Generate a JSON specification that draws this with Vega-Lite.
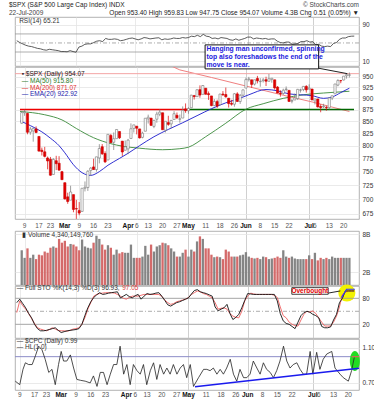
{
  "$schema": "https://vega.github.io/schema/vega-lite/v6.json",
  "background": "white",
  "padding": {"left": 8, "right": 0, "top": 1, "bottom": 0},
  "datasets": {
    "d": [
      {"i":-1,"o":846,"h":870.7,"l":845,"c":868.6,"v":5.5},{"i":0,"o":868.2,"h":875,"l":861.7,"c":869.9,"v":4.3},{"i":1,"o":866.9,"h":868,"l":823,"c":827.2,"v":5.8},{"i":2,"o":827.4,"h":838.2,"l":822,"c":833.7,"v":4.3},{"i":3,"o":829.9,"h":835.5,"l":808,"c":835.2,"v":4.8},{"i":4,"o":833.9,"h":839.4,"l":825.2,"c":826.8,"v":4.1},{"i":5,"o":818.6,"h":818.6,"l":789,"c":789.2,"v":4.8},{"i":6,"o":791,"h":796.2,"l":780.7,"c":788.4,"v":4.7},{"i":7,"o":787.9,"h":797.6,"l":777,"c":779,"v":5.3},{"i":8,"o":775.9,"h":778.7,"l":754.3,"c":770.1,"v":5.1},{"i":9,"o":773.3,"h":777.9,"l":742.4,"c":743.3,"v":5.9},{"i":10,"o":744.7,"h":775.5,"l":744.7,"c":773.1,"v":6.1},{"i":11,"o":770.6,"h":780.1,"l":752.9,"c":764.9,"v":5.9},{"i":12,"o":765.8,"h":779.4,"l":751.8,"c":752.8,"v":7.3},{"i":13,"o":749.9,"h":751.3,"l":734.5,"c":735.1,"v":6.7},{"i":14,"o":729.6,"h":729.6,"l":699.7,"c":700.8,"v":7.0},{"i":15,"o":704.4,"h":711.7,"l":692.3,"c":696.3,"v":6.1},{"i":16,"o":698.6,"h":724.1,"l":698.6,"c":712.9,"v":6.5},{"i":17,"o":708.3,"h":708.3,"l":677.9,"c":682.6,"v":6.4},{"i":18,"o":684,"h":699.1,"l":666.8,"c":683.4,"v":6.1},{"i":19,"o":680.8,"h":695.3,"l":672.9,"c":676.5,"v":5.5},{"i":20,"o":679.3,"h":719.6,"l":679.3,"c":719.6,"v":7.2},{"i":21,"o":719.6,"h":731.9,"l":713.9,"c":721.4,"v":6.1},{"i":22,"o":720.9,"h":752.6,"l":714.8,"c":750.7,"v":5.9},{"i":23,"o":752,"h":758.3,"l":742.5,"c":756.6,"v":5.8},{"i":24,"o":758.8,"h":774.5,"l":753.4,"c":753.9,"v":6.7},{"i":25,"o":753.9,"h":778.1,"l":749.9,"c":778.1,"v":7.8},{"i":26,"o":776,"h":803,"l":765.6,"c":794.4,"v":7.3},{"i":27,"o":797.9,"h":803.2,"l":781.8,"c":784,"v":6.4},{"i":28,"o":784.6,"h":788.9,"l":766.2,"c":768.5,"v":5.6},{"i":29,"o":772,"h":823,"l":772,"c":822.9,"v":6.3},{"i":30,"o":820.6,"h":823.7,"l":805.5,"c":806.1,"v":5.9},{"i":31,"o":806.8,"h":826.8,"l":791.4,"c":813.9,"v":4.8},{"i":32,"o":814.1,"h":833,"l":814.1,"c":832.9,"v":5.6},{"i":33,"o":828.7,"h":828.7,"l":813.4,"c":815.9,"v":5.0},{"i":34,"o":809.1,"h":809.1,"l":779.8,"c":787.5,"v":5.2},{"i":35,"o":790.9,"h":810.5,"l":790.9,"c":797.9,"v":5.1},{"i":36,"o":793.6,"h":813.6,"l":783.3,"c":811.1,"v":5.1},{"i":37,"o":814.5,"h":845.6,"l":814.5,"c":834.4,"v":6.4},{"i":38,"o":835.1,"h":842.5,"l":826.7,"c":842.5,"v":4.3},{"i":39,"o":839.8,"h":839.8,"l":822.8,"c":835.5,"v":4.3},{"i":40,"o":834.1,"h":834.1,"l":814.5,"c":815.6,"v":4.3},{"i":41,"o":816.8,"h":828.4,"l":814.8,"c":825.2,"v":4.5},{"i":42,"o":829.3,"h":856.9,"l":829.3,"c":856.6,"v":6.2},{"i":43,"o":855.3,"h":864.3,"l":845.3,"c":858.7,"v":4.8},{"i":44,"o":856.9,"h":856.9,"l":840.3,"c":841.5,"v":6.4},{"i":45,"o":839.4,"h":852.9,"l":835.6,"c":852.1,"v":5.3},{"i":46,"o":854.5,"h":870.4,"l":847,"c":865.3,"v":6.1},{"i":47,"o":865.2,"h":875.6,"l":860.9,"c":869.6,"v":6.3},{"i":48,"o":868.3,"h":868.3,"l":832.4,"c":832.4,"v":6.7},{"i":49,"o":831.3,"h":850.1,"l":826.8,"c":850.1,"v":6.6},{"i":50,"o":847.3,"h":861.8,"l":840.6,"c":843.6,"v":6.3},{"i":51,"o":844.6,"h":852.9,"l":835.6,"c":851.9,"v":5.8},{"i":52,"o":853.9,"h":871.8,"l":853.9,"c":866.2,"v":5.3},{"i":53,"o":862.8,"h":868.8,"l":854.7,"c":857.5,"v":4.5},{"i":54,"o":854.5,"h":864.5,"l":847.1,"c":855.2,"v":4.5},{"i":55,"o":856.9,"h":882.1,"l":856.9,"c":873.6,"v":5.1},{"i":56,"o":876.6,"h":888.7,"l":868.2,"c":872.8,"v":5.6},{"i":57,"o":872.7,"h":880.5,"l":866.1,"c":877.5,"v":4.5},{"i":58,"o":879.2,"h":907.9,"l":879.2,"c":907.2,"v":5.6},{"i":59,"o":906.1,"h":907.7,"l":897.3,"c":903.8,"v":5.3},{"i":60,"o":903.9,"h":920.3,"l":903.9,"c":919.5,"v":6.9},{"i":61,"o":919.6,"h":929.6,"l":901.4,"c":907.4,"v":7.7},{"i":62,"o":909,"h":930.2,"l":909,"c":929.2,"v":7.3},{"i":63,"o":923,"h":923,"l":908.7,"c":909.2,"v":5.8},{"i":64,"o":910.5,"h":915.6,"l":896.5,"c":908.4,"v":5.8},{"i":65,"o":905.4,"h":905.4,"l":882.5,"c":883.9,"v":4.8},{"i":66,"o":884.2,"h":898.4,"l":882.5,"c":893.1,"v":4.4},{"i":67,"o":892.8,"h":897,"l":878.9,"c":882.9,"v":4.5},{"i":68,"o":886.1,"h":910,"l":886.1,"c":909.7,"v":4.4},{"i":69,"o":909.7,"h":916.4,"l":905.2,"c":908.1,"v":4.1},{"i":70,"o":908.6,"h":924.6,"l":901.4,"c":903.5,"v":5.6},{"i":71,"o":900.4,"h":900.4,"l":879.6,"c":888.3,"v":5.3},{"i":72,"o":888.7,"h":896.7,"l":883.8,"c":887,"v":4.5},{"i":73,"o":887,"h":911.8,"l":881.5,"c":910.3,"v":4.5},{"i":74,"o":910,"h":913.8,"l":891.9,"c":893.1,"v":4.5},{"i":75,"o":893,"h":909.5,"l":887.6,"c":906.8,"v":4.7},{"i":76,"o":907,"h":920,"l":903.6,"c":919.1,"v":4.8},{"i":77,"o":923.3,"h":947.8,"l":923.3,"c":942.9,"v":5.2},{"i":78,"o":942.9,"h":949.4,"l":938.5,"c":944.7,"v":4.5},{"i":79,"o":942.5,"h":942.5,"l":923.9,"c":931.8,"v":4.3},{"i":80,"o":932.5,"h":942.5,"l":929.3,"c":942.5,"v":4.2},{"i":81,"o":945.7,"h":951.7,"l":934.1,"c":940.1,"v":4.3},{"i":82,"o":938.1,"h":946.3,"l":926.4,"c":939.1,"v":4.1},{"i":83,"o":940.4,"h":946.9,"l":936.2,"c":942.4,"v":4.5},{"i":84,"o":942.7,"h":949.8,"l":928,"c":939.2,"v":4.4},{"i":85,"o":939,"h":956.2,"l":939,"c":944.9,"v":4.1},{"i":86,"o":943.4,"h":946.3,"l":935.7,"c":946.2,"v":4.2},{"i":87,"o":942.5,"h":942.5,"l":919.7,"c":923.7,"v":4.3},{"i":88,"o":925.6,"h":928,"l":911.6,"c":912,"v":4.5},{"i":89,"o":911.9,"h":918.4,"l":903.8,"c":910.7,"v":4.3},{"i":90,"o":910.9,"h":921.9,"l":907.9,"c":918.4,"v":5.5},{"i":91,"o":920,"h":927.1,"l":915.8,"c":921.2,"v":4.5},{"i":92,"o":918.1,"h":918.1,"l":893,"c":893,"v":4.3},{"i":93,"o":893.5,"h":898.7,"l":888.9,"c":895.1,"v":4.5},{"i":94,"o":896.3,"h":910.9,"l":896.3,"c":900.9,"v":4.2},{"i":95,"o":899.5,"h":921.4,"l":896.3,"c":920.3,"v":4.1},{"i":96,"o":918.8,"h":922,"l":913,"c":918.9,"v":4.1},{"i":97,"o":919.9,"h":928,"l":916.2,"c":927.2,"v":4.1},{"i":98,"o":927.2,"h":930,"l":912.9,"c":919.3,"v":4.1},{"i":99,"o":920.8,"h":931.9,"l":920.8,"c":923.3,"v":4.7},{"i":100,"o":921.2,"h":921.2,"l":896.4,"c":896.4,"v":4.1},{"i":101,"o":894.3,"h":898.7,"l":886.4,"c":898.7,"v":5.1},{"i":102,"o":898.6,"h":898.6,"l":879.9,"c":881,"v":3.9},{"i":103,"o":881.9,"h":886.8,"l":869.3,"c":879.6,"v":4.3},{"i":104,"o":881.3,"h":887.9,"l":878.5,"c":882.7,"v":4.1},{"i":105,"o":880,"h":883.6,"l":872.8,"c":879.1,"v":4.3},{"i":106,"o":879.6,"h":901.1,"l":875.3,"c":901.1,"v":4.1},{"i":107,"o":900.8,"h":905.8,"l":896.1,"c":905.8,"v":4.5},{"i":108,"o":910.2,"h":933,"l":910.2,"c":932.7,"v":4.3},{"i":109,"o":930.2,"h":944,"l":927.4,"c":940.7,"v":4.3},{"i":110,"o":940.6,"h":941.9,"l":934.5,"c":940.4,"v":4.3},{"i":111,"o":942.1,"h":951.6,"l":941,"c":951.1,"v":4.3},{"i":112,"o":952,"h":956.5,"l":945.2,"c":954.6,"v":4.3},{"i":113,"o":953.4,"h":959.8,"l":947.8,"c":954.1,"v":4.3}
    ],
    "xl": [{"i":0,"t":"9"},{"i":5,"t":"17"},{"i":9,"t":"23"},{"i":14,"t":"Mar"},{"i":19,"t":"9"},{"i":24,"t":"16"},{"i":29,"t":"23"},{"i":36,"t":"Apr"},{"i":39,"t":"6"},{"i":43,"t":"13"},{"i":48,"t":"20"},{"i":53,"t":"27"},{"i":57,"t":"May"},{"i":63,"t":"11"},{"i":68,"t":"18"},{"i":73,"t":"26"},{"i":77,"t":"Jun"},{"i":82,"t":"8"},{"i":87,"t":"15"},{"i":92,"t":"22"},{"i":99,"t":"Jul"},{"i":101,"t":"6"},{"i":106,"t":"13"},{"i":111,"t":"20"}],
    "ma50": [{"i":-1.6,"m":871},{"i":7,"m":864},{"i":13,"m":853},{"i":18,"m":835},{"i":24,"m":816},{"i":30,"m":804},{"i":34,"m":799},{"i":40,"m":795},{"i":48,"m":792},{"i":54,"m":794},{"i":57,"m":797},{"i":63,"m":818},{"i":70,"m":846},{"i":77,"m":876},{"i":83,"m":888},{"i":90,"m":900},{"i":97,"m":908},{"i":104,"m":912},{"i":113,"m":916}],
    "ema": [{"i":-1.6,"m":851},{"i":2,"m":841},{"i":6,"m":828},{"i":9,"m":815},{"i":12,"m":800},{"i":14,"m":786},{"i":17,"m":763},{"i":20,"m":748},{"i":23,"m":743},{"i":26,"m":750},{"i":29,"m":762},{"i":33,"m":775},{"i":36,"m":785},{"i":40,"m":800},{"i":45,"m":818},{"i":50,"m":833},{"i":55,"m":847},{"i":60,"m":862},{"i":65,"m":877},{"i":70,"m":890},{"i":74,"m":898},{"i":78,"m":908},{"i":84,"m":920},{"i":88,"m":917},{"i":92,"m":910},{"i":96,"m":908},{"i":100,"m":906},{"i":104,"m":900},{"i":107,"m":903},{"i":110,"m":913},{"i":113,"m":923}],
    "ma200": [{"i":48,"m":985},{"i":54,"m":966},{"i":65,"m":948},{"i":77,"m":928},{"i":90,"m":907},{"i":100,"m":892},{"i":113,"m":871}],
    "rsi": [{"i":-1,"r":55},{"i":0,"r":51},{"i":1,"r":48},{"i":2,"r":45},{"i":3,"r":43},{"i":4,"r":42},{"i":5,"r":40},{"i":6,"r":38},{"i":7,"r":37},{"i":8,"r":35},{"i":9,"r":34},{"i":10,"r":36},{"i":11,"r":35},{"i":12,"r":34},{"i":13,"r":33},{"i":14,"r":31},{"i":15,"r":31},{"i":16,"r":30.5},{"i":17,"r":33},{"i":18,"r":31},{"i":19,"r":29.5},{"i":20,"r":41},{"i":21,"r":43},{"i":22,"r":47},{"i":23,"r":48},{"i":24,"r":48},{"i":25,"r":51},{"i":26,"r":54},{"i":27,"r":55},{"i":28,"r":53},{"i":29,"r":60},{"i":30,"r":58},{"i":31,"r":58},{"i":32,"r":59},{"i":33,"r":58},{"i":34,"r":55},{"i":35,"r":56},{"i":36,"r":58},{"i":37,"r":60},{"i":38,"r":61},{"i":39,"r":59},{"i":40,"r":57},{"i":41,"r":59},{"i":42,"r":62},{"i":43,"r":61},{"i":44,"r":59},{"i":45,"r":60},{"i":46,"r":61},{"i":47,"r":61.5},{"i":48,"r":57},{"i":49,"r":59},{"i":50,"r":58},{"i":51,"r":59},{"i":52,"r":61},{"i":53,"r":60},{"i":54,"r":60},{"i":55,"r":62},{"i":56,"r":61},{"i":57,"r":62},{"i":58,"r":65},{"i":59,"r":64},{"i":60,"r":67},{"i":61,"r":64},{"i":62,"r":69},{"i":63,"r":65},{"i":64,"r":64},{"i":65,"r":60},{"i":66,"r":61},{"i":67,"r":59},{"i":68,"r":62},{"i":69,"r":61},{"i":70,"r":60},{"i":71,"r":57},{"i":72,"r":56},{"i":73,"r":59},{"i":74,"r":56},{"i":75,"r":58},{"i":76,"r":60},{"i":77,"r":63},{"i":78,"r":63},{"i":79,"r":59},{"i":80,"r":61},{"i":81,"r":60},{"i":82,"r":59},{"i":83,"r":60},{"i":84,"r":58},{"i":85,"r":59},{"i":86,"r":59},{"i":87,"r":54},{"i":88,"r":51},{"i":89,"r":50},{"i":90,"r":52},{"i":91,"r":52},{"i":92,"r":47},{"i":93,"r":48},{"i":94,"r":49},{"i":95,"r":53},{"i":96,"r":53},{"i":97,"r":55},{"i":98,"r":52},{"i":99,"r":53},{"i":100,"r":46},{"i":101,"r":47},{"i":102,"r":43},{"i":103,"r":42},{"i":104,"r":43},{"i":105,"r":42},{"i":106,"r":49},{"i":107,"r":51},{"i":108,"r":58},{"i":109,"r":61},{"i":110,"r":61},{"i":111,"r":64},{"i":112,"r":65},{"i":113,"r":65.2}],
    "sto": [{"i":-1,"k":70,"d":47},{"i":0,"k":78,"d":74},{"i":1,"k":68,"d":63},{"i":2,"k":58,"d":55},{"i":3,"k":45,"d":45},{"i":4,"k":35,"d":33},{"i":5,"k":20,"d":22},{"i":6,"k":10,"d":12},{"i":7,"k":5,"d":9},{"i":8,"k":5,"d":7},{"i":9,"k":6,"d":5},{"i":10,"k":8,"d":8},{"i":11,"k":10,"d":12},{"i":12,"k":12,"d":9},{"i":13,"k":6,"d":6},{"i":14,"k":1,"d":5},{"i":15,"k":3,"d":5},{"i":16,"k":5,"d":4},{"i":17,"k":6,"d":6},{"i":18,"k":7,"d":9},{"i":19,"k":8,"d":10},{"i":20,"k":10,"d":12},{"i":21,"k":20,"d":20},{"i":22,"k":40,"d":35},{"i":23,"k":58,"d":55},{"i":24,"k":72,"d":70},{"i":25,"k":82,"d":85},{"i":26,"k":88,"d":89},{"i":27,"k":93,"d":91},{"i":28,"k":89,"d":92},{"i":29,"k":90,"d":93},{"i":30,"k":92,"d":93},{"i":31,"k":93,"d":93},{"i":32,"k":94,"d":92},{"i":33,"k":95,"d":89},{"i":34,"k":81,"d":85},{"i":35,"k":85,"d":80},{"i":36,"k":89,"d":78},{"i":37,"k":84,"d":82},{"i":38,"k":81,"d":85},{"i":39,"k":86,"d":85},{"i":40,"k":89,"d":85},{"i":41,"k":78,"d":87},{"i":42,"k":85,"d":89},{"i":43,"k":91,"d":89},{"i":44,"k":89,"d":89},{"i":45,"k":90,"d":89},{"i":46,"k":92,"d":89},{"i":47,"k":93,"d":89},{"i":48,"k":85,"d":84},{"i":49,"k":75,"d":76},{"i":50,"k":65,"d":70},{"i":51,"k":62,"d":66},{"i":52,"k":66,"d":68},{"i":53,"k":70,"d":72},{"i":54,"k":72,"d":74},{"i":55,"k":75,"d":76},{"i":56,"k":78,"d":78},{"i":57,"k":81,"d":82},{"i":58,"k":90,"d":89},{"i":59,"k":98,"d":93},{"i":60,"k":100,"d":97},{"i":61,"k":95,"d":95},{"i":62,"k":93,"d":91},{"i":63,"k":91,"d":89},{"i":64,"k":88,"d":85},{"i":65,"k":85,"d":81},{"i":66,"k":60,"d":70},{"i":67,"k":51,"d":55},{"i":68,"k":55,"d":57},{"i":69,"k":58,"d":58},{"i":70,"k":66,"d":55},{"i":71,"k":45,"d":45},{"i":72,"k":31,"d":39},{"i":73,"k":36,"d":36},{"i":74,"k":43,"d":35},{"i":75,"k":58,"d":50},{"i":76,"k":75,"d":74},{"i":77,"k":91,"d":85},{"i":78,"k":90,"d":92},{"i":79,"k":89,"d":90},{"i":80,"k":89,"d":89},{"i":81,"k":89,"d":89},{"i":82,"k":89,"d":89},{"i":83,"k":89,"d":89},{"i":84,"k":89,"d":89},{"i":85,"k":89,"d":89},{"i":86,"k":89,"d":87},{"i":87,"k":74,"d":82},{"i":88,"k":45,"d":60},{"i":89,"k":28,"d":40},{"i":90,"k":22,"d":35},{"i":91,"k":20,"d":25},{"i":92,"k":15,"d":20},{"i":93,"k":10,"d":17},{"i":94,"k":25,"d":16},{"i":95,"k":40,"d":30},{"i":96,"k":47,"d":43},{"i":97,"k":50,"d":50},{"i":98,"k":48,"d":48},{"i":99,"k":43,"d":51},{"i":100,"k":40,"d":45},{"i":101,"k":35,"d":35},{"i":102,"k":15,"d":25},{"i":103,"k":12,"d":16},{"i":104,"k":12,"d":16},{"i":105,"k":14,"d":16},{"i":106,"k":30,"d":25},{"i":107,"k":43,"d":39},{"i":108,"k":70,"d":60},{"i":109,"k":80,"d":89},{"i":110,"k":97,"d":94},{"i":111,"k":97,"d":97},{"i":112,"k":97,"d":97},{"i":113,"k":96.9,"d":97.05}],
    "cpc": [{"i":-1.5,"p":0.72},{"i":0,"p":0.68},{"i":1.1,"p":0.855},{"i":1.9,"p":0.93},{"i":3,"p":0.91},{"i":4.2,"p":0.91},{"i":5.3,"p":1.01},{"i":6.4,"p":1.12},{"i":7.5,"p":1.08},{"i":8.6,"p":0.97},{"i":9.8,"p":0.82},{"i":10.9,"p":0.855},{"i":12,"p":0.68},{"i":13.1,"p":0.91},{"i":14,"p":1.06},{"i":14.8,"p":0.95},{"i":15.9,"p":0.95},{"i":17.1,"p":1.02},{"i":18.2,"p":0.87},{"i":19.3,"p":0.74},{"i":20.5,"p":0.73},{"i":22.1,"p":0.72},{"i":23.8,"p":0.7},{"i":24.9,"p":0.78},{"i":26.1,"p":0.66},{"i":27.2,"p":0.82},{"i":28.3,"p":0.82},{"i":29.5,"p":0.68},{"i":30.6,"p":0.8},{"i":31.7,"p":0.91},{"i":32.8,"p":0.91},{"i":33.9,"p":1.12},{"i":35.1,"p":0.8},{"i":36.2,"p":0.91},{"i":37.3,"p":0.68},{"i":38.4,"p":0.91},{"i":39.6,"p":0.84},{"i":40.7,"p":0.8},{"i":41.8,"p":0.91},{"i":42.9,"p":0.68},{"i":44.1,"p":0.84},{"i":45.2,"p":0.93},{"i":46.3,"p":0.74},{"i":47.4,"p":0.91},{"i":48.6,"p":0.8},{"i":49.7,"p":0.87},{"i":50.8,"p":0.8},{"i":51.9,"p":0.91},{"i":53.1,"p":0.8},{"i":54.2,"p":0.87},{"i":55.3,"p":0.91},{"i":56.4,"p":0.76},{"i":57.6,"p":0.91},{"i":58.7,"p":0.66},{"i":60.4,"p":0.76},{"i":62.1,"p":0.855},{"i":63.2,"p":0.855},{"i":64.3,"p":0.84},{"i":65.4,"p":0.87},{"i":66.6,"p":0.8},{"i":67.7,"p":0.855},{"i":68.8,"p":0.8},{"i":69.9,"p":0.87},{"i":71.1,"p":0.97},{"i":72.2,"p":0.8},{"i":73.3,"p":0.72},{"i":74.4,"p":0.855},{"i":75.6,"p":0.76},{"i":76.7,"p":0.76},{"i":77.8,"p":0.8},{"i":78.9,"p":0.95},{"i":80.1,"p":0.87},{"i":81.2,"p":0.8},{"i":82.3,"p":0.93},{"i":83.4,"p":0.855},{"i":84.6,"p":0.82},{"i":85.7,"p":0.76},{"i":86.8,"p":0.84},{"i":87.9,"p":0.95},{"i":89.1,"p":1.12},{"i":90.2,"p":0.95},{"i":91.3,"p":0.87},{"i":92.4,"p":0.91},{"i":93.6,"p":0.93},{"i":94.7,"p":0.855},{"i":95.8,"p":0.8},{"i":96.9,"p":0.8},{"i":98.1,"p":1.06},{"i":99,"p":0.8},{"i":100.3,"p":1.05},{"i":101.4,"p":0.855},{"i":102.5,"p":0.97},{"i":103.7,"p":1.03},{"i":105.4,"p":1.06},{"i":106.5,"p":0.87},{"i":108.2,"p":0.8},{"i":109.3,"p":0.76},{"i":111,"p":0.72},{"i":112.1,"p":0.84},{"i":113,"p":0.99}]
  },
  "bounds": "flush",
  "spacing": 1,
  "vconcat": [
    {
      "width": 344,
      "height": 49,
      "title": {"text": "$SPX (S&P 500 Large Cap Index) INDX", "subtitle": "22-Jul-2009", "anchor": "start", "frame": "group", "fontSize": 6.5, "fontWeight": "normal", "color": "#222", "subtitleFontSize": 6.5, "subtitleColor": "#444", "subtitlePadding": 1, "offset": 1, "dx": -6},
      "layer": [
        {"mark": {"type": "rule", "color": "#999", "strokeWidth": 0.8}, "data": {"values": [{}]},
         "encoding": {
           "x": {"datum": -1.6, "type": "quantitative", "scale": {"domain": [-1.6, 114.6], "nice": false, "zero": false}, "axis": {"values": [0,5,9,14,19,24,29,36,39,43,48,53,57,63,68,73,77,82,87,92,99,101,106,111], "labels": false, "grid": true, "gridColor": {"condition": {"test": "indexof([14,36,57,77,99], datum.value) >= 0", "value": "#c4c4c4"}, "value": "#e4e4e4"}, "title": null}},
           "x2": {"datum": 114.6},
           "y": {"datum": 30, "type": "quantitative", "scale": {"domain": [-1, 107.5], "nice": false, "zero": false}, "axis": {"orient": "right", "values": [10,30,50,70,90], "grid": true, "labelPadding": 3, "title": null}}}},
        {"mark": {"type": "rule", "color": "#999", "strokeWidth": 0.8}, "data": {"values": [{}]}, "encoding": {"y": {"datum": 70}}},
        {"mark": {"type": "rule", "color": "#999", "strokeWidth": 0.8, "strokeDash": [4, 2, 1, 2]}, "data": {"values": [{}]}, "encoding": {"y": {"datum": 50}}},
        {"data": {"name": "rsi"}, "mark": {"type": "line", "color": "#333", "strokeWidth": 0.8}, "encoding": {"x": {"field": "i", "type": "quantitative"}, "y": {"field": "r", "type": "quantitative"}}},
        {"mark": {"type": "text", "align": "left", "baseline": "middle", "fontSize": 6.5, "color": "#333"}, "data": {"values": [{}]}, "encoding": {"x": {"datum": -0.2}, "y": {"datum": 99.5}, "text": {"value": "RSI(14) 65.21"}}}
      ]
    },
    {
      "width": 344,
      "height": 152,
      "title": {"text": "© StockCharts.com", "subtitle": "Open 953.40  High 959.83  Low 947.75  Close 954.07  Volume 4.3B  Chg 0.51 (0.05%) ▼", "anchor": "end", "frame": "group", "fontSize": 6.5, "fontWeight": "normal", "color": "#444", "subtitleFontSize": 6.5, "subtitleColor": "#222", "subtitlePadding": 1, "offset": 28},
      "layer": [
        {"data": {"name": "ma200"}, "mark": {"type": "line", "color": "#f08080", "strokeWidth": 1, "clip": true},
         "encoding": {
           "x": {"field": "i", "type": "quantitative", "scale": {"domain": [-1.6, 114.6], "nice": false, "zero": false}, "axis": {"values": [0,5,9,14,19,24,29,36,39,43,48,53,57,63,68,73,77,82,87,92,99,101,106,111], "labels": false, "grid": true, "gridColor": {"condition": {"test": "indexof([14,36,57,77,99], datum.value) >= 0", "value": "#c4c4c4"}, "value": "#e4e4e4"}, "title": null}},
           "y": {"field": "m", "type": "quantitative", "scale": {"type": "log", "domain": [666.6, 973], "nice": false, "zero": false}, "axis": {"orient": "right", "values": [675,700,725,750,775,800,825,850,875,900,925,950], "grid": true, "labelPadding": 3, "title": null}}}},
        {"mark": {"type": "rule", "color": "#f4a4a4", "strokeWidth": 1}, "data": {"values": [{}]}, "encoding": {"y": {"datum": 957}}},
        {"mark": {"type": "rule", "color": "#ee0000", "strokeWidth": 1.6}, "data": {"values": [{}]}, "encoding": {"x": {"datum": -1.6}, "x2": {"datum": 57.4}, "y": {"datum": 875.5}}},
        {"mark": {"type": "rule", "color": "#006600", "strokeWidth": 1.6}, "data": {"values": [{}]}, "encoding": {"x": {"datum": 57.4}, "x2": {"datum": 114.6}, "y": {"datum": 875.5}}},
        {"data": {"name": "ma50"}, "mark": {"type": "line", "color": "#3a8a3a", "strokeWidth": 0.9, "interpolate": "monotone"}, "encoding": {"x": {"field": "i", "type": "quantitative"}, "y": {"field": "m", "type": "quantitative"}}},
        {"data": {"name": "ema"}, "mark": {"type": "line", "color": "#1a1acc", "strokeWidth": 0.9, "interpolate": "monotone"}, "encoding": {"x": {"field": "i", "type": "quantitative"}, "y": {"field": "m", "type": "quantitative"}}},
        {"data": {"name": "d"}, "mark": {"type": "rule", "strokeWidth": 0.7},
         "encoding": {"x": {"field": "i", "type": "quantitative"}, "y": {"field": "l", "type": "quantitative"}, "y2": {"field": "h"},
           "color": {"condition": {"test": "datum.c >= datum.o", "value": "#777777"}, "value": "#dd0000"}}},
        {"data": {"name": "d"}, "mark": {"type": "bar", "size": 2.2, "strokeWidth": 0.6},
         "encoding": {"x": {"field": "i", "type": "quantitative"}, "y": {"field": "o", "type": "quantitative"}, "y2": {"field": "c"},
           "fill": {"condition": {"test": "datum.c >= datum.o", "value": "#ffffff"}, "value": "#e00000"},
           "stroke": {"condition": {"test": "datum.c >= datum.o", "value": "#777777"}, "value": "#cc0000"}}},
        {"data": {"name": "xl"}, "transform": [{"filter": "indexof(['Mar','Apr','May','Jun','Jul'], datum.t) < 0"}], "mark": {"type": "text", "align": "center", "baseline": "middle", "fontSize": 6.5, "color": "#555"}, "encoding": {"x": {"field": "i", "type": "quantitative"}, "y": {"datum": 655}, "text": {"field": "t"}}},
        {"data": {"name": "xl"}, "transform": [{"filter": "indexof(['Mar','Apr','May','Jun','Jul'], datum.t) >= 0"}], "mark": {"type": "text", "align": "center", "baseline": "middle", "fontSize": 6.5, "fontWeight": "bold", "color": "#111"}, "encoding": {"x": {"field": "i", "type": "quantitative"}, "y": {"datum": 655}, "text": {"field": "t"}}},
        {"mark": {"type": "text", "align": "left", "baseline": "middle", "fontSize": 6.5, "color": "#222"}, "data": {"values": [{}]}, "encoding": {"x": {"datum": -1}, "y": {"datum": 957}, "text": {"value": "▪ $SPX (Daily) 954.07"}}},
        {"mark": {"type": "text", "align": "left", "baseline": "middle", "fontSize": 6.5, "color": "#2a7a2a"}, "data": {"values": [{}]}, "encoding": {"x": {"datum": -1}, "y": {"datum": 940}, "text": {"value": "— MA(50) 915.80"}}},
        {"mark": {"type": "text", "align": "left", "baseline": "middle", "fontSize": 6.5, "color": "#e03030"}, "data": {"values": [{}]}, "encoding": {"x": {"datum": -1}, "y": {"datum": 924}, "text": {"value": "— MA(200) 871.07"}}},
        {"mark": {"type": "text", "align": "left", "baseline": "middle", "fontSize": 6.5, "color": "#1a1aaa"}, "data": {"values": [{}]}, "encoding": {"x": {"datum": -1}, "y": {"datum": 909}, "text": {"value": "— EMA(20) 922.92"}}},
        {"mark": {"type": "rule", "color": "#222", "strokeWidth": 1}, "data": {"values": [{}]}, "encoding": {"x": {"datum": 102.3}, "x2": {"datum": 112.3}, "y": {"datum": 970}, "y2": {"datum": 957}}},
        {"mark": {"type": "rect", "fill": "white", "stroke": "#111", "strokeWidth": 1}, "data": {"values": [{}]}, "encoding": {"x": {"datum": 62.8}, "x2": {"datum": 102.3}, "y": {"datum": 1028}, "y2": {"datum": 968.4}}},
        {"mark": {"type": "text", "align": "left", "baseline": "top", "fontSize": 6.8, "fontWeight": "bold", "color": "#1a1add", "lineHeight": 7.6}, "data": {"values": [{}]}, "encoding": {"x": {"datum": 63.3}, "y": {"datum": 1024}, "text": {"value": ["Hanging man unconfirmed, spinning", "top also foreshadows the end of the", "move is near."]}}}
      ]
    },
    {
      "width": 344,
      "height": 10,
      "view": {"stroke": null},
      "data": {"values": [{}]},
      "mark": {"type": "point", "opacity": 0},
      "encoding": {}
    },
    {
      "width": 344,
      "height": 54,
      "layer": [
        {"data": {"name": "d"}, "mark": {"type": "bar", "size": 2.3},
         "encoding": {
           "x": {"field": "i", "type": "quantitative", "scale": {"domain": [-1.6, 114.6], "nice": false, "zero": false}, "axis": {"values": [0,5,9,14,19,24,29,36,39,43,48,53,57,63,68,73,77,82,87,92,99,101,106,111], "labels": false, "grid": true, "gridColor": {"condition": {"test": "indexof([14,36,57,77,99], datum.value) >= 0", "value": "#c4c4c4"}, "value": "#e4e4e4"}, "title": null}},
           "y": {"field": "v", "type": "quantitative", "scale": {"domain": [0, 8.55], "nice": false}, "axis": {"orient": "right", "values": [2,4,6,8], "labelExpr": "datum.value + 'B'", "grid": true, "labelPadding": 3, "title": null}},
           "color": {"condition": {"test": "datum.c >= datum.o", "value": "#858585"}, "value": "#d46a6a"}}},
        {"mark": {"type": "text", "align": "left", "baseline": "middle", "fontSize": 6.5, "color": "#333"}, "data": {"values": [{}]}, "encoding": {"x": {"datum": -0.8}, "y": {"datum": 7.9}, "text": {"value": "▮ Volume 4,340,149,760"}}}
      ]
    },
    {
      "width": 344,
      "height": 52,
      "layer": [
        {"mark": {"type": "point", "shape": "circle", "filled": true, "color": "#f2f200", "opacity": 1, "size": 290}, "data": {"values": [{}]},
         "encoding": {
           "x": {"datum": 110.5, "type": "quantitative", "scale": {"domain": [-1.6, 114.6], "nice": false, "zero": false}, "axis": {"values": [0,5,9,14,19,24,29,36,39,43,48,53,57,63,68,73,77,82,87,92,99,101,106,111], "labels": false, "grid": true, "gridColor": {"condition": {"test": "indexof([14,36,57,77,99], datum.value) >= 0", "value": "#c4c4c4"}, "value": "#e4e4e4"}, "title": null}},
           "y": {"datum": 92, "type": "quantitative", "scale": {"domain": [-11.6, 108.4], "nice": false, "zero": false}, "axis": {"orient": "right", "values": [20,50,80], "grid": true, "labelPadding": 3, "title": null}}}},
        {"mark": {"type": "rule", "color": "#999", "strokeWidth": 0.8}, "data": {"values": [{}]}, "encoding": {"y": {"datum": 20}}},
        {"mark": {"type": "rule", "color": "#999", "strokeWidth": 0.8}, "data": {"values": [{}]}, "encoding": {"y": {"datum": 80}}},
        {"mark": {"type": "rule", "color": "#999", "strokeWidth": 0.8, "strokeDash": [4, 2, 1, 2]}, "data": {"values": [{}]}, "encoding": {"y": {"datum": 50}}},
        {"data": {"name": "sto"}, "mark": {"type": "line", "color": "#f06060", "strokeWidth": 0.9}, "encoding": {"x": {"field": "i", "type": "quantitative"}, "y": {"field": "d", "type": "quantitative"}}},
        {"data": {"name": "sto"}, "mark": {"type": "line", "color": "#111", "strokeWidth": 0.9}, "encoding": {"x": {"field": "i", "type": "quantitative"}, "y": {"field": "k", "type": "quantitative"}}},
        {"data": {"values": [{"i": 108.7, "s": 81.5}, {"i": 110.4, "s": 100.9}, {"i": 113.2, "s": 100.9}]}, "mark": {"type": "line", "color": "#3333ff", "strokeWidth": 1.1}, "encoding": {"x": {"field": "i", "type": "quantitative"}, "y": {"field": "s", "type": "quantitative"}}},
        {"mark": {"type": "rule", "color": "#111", "strokeWidth": 0.9}, "data": {"values": [{}]}, "encoding": {"x": {"datum": 104.2}, "x2": {"datum": 108.3}, "y": {"datum": 92}, "y2": {"datum": 97}}},
        {"mark": {"type": "rect", "fill": "white", "stroke": "#111", "strokeWidth": 0.8}, "data": {"values": [{}]}, "encoding": {"x": {"datum": 91.9}, "x2": {"datum": 104.2}, "y": {"datum": 104.6}, "y2": {"datum": 89.3}}},
        {"mark": {"type": "text", "align": "center", "baseline": "middle", "fontSize": 6.5, "fontWeight": "bold", "color": "#e00000"}, "data": {"values": [{}]}, "encoding": {"x": {"datum": 98}, "y": {"datum": 97}, "text": {"value": "Overbought"}}},
        {"mark": {"type": "text", "align": "left", "baseline": "middle", "fontSize": 6.5, "color": "#333"}, "data": {"values": [{}]}, "encoding": {"x": {"datum": -1}, "y": {"datum": 104}, "text": {"value": "— Full STO %K(14,3) %D(3) 96.93,"}}},
        {"mark": {"type": "text", "align": "left", "baseline": "middle", "fontSize": 6.5, "color": "#e04040"}, "data": {"values": [{}]}, "encoding": {"x": {"datum": 34.6}, "y": {"datum": 104}, "text": {"value": "97.05"}}}
      ]
    },
    {
      "width": 344,
      "height": 51,
      "layer": [
        {"mark": {"type": "rule", "color": "#8c8cc8", "strokeWidth": 1}, "data": {"values": [{}]},
         "encoding": {
           "x": {"datum": -1.6, "type": "quantitative", "scale": {"domain": [-1.6, 114.6], "nice": false, "zero": false}, "axis": {"values": [0,5,9,14,19,24,29,36,39,43,48,53,57,63,68,73,77,82,87,92,99,101,106,111], "labels": false, "grid": true, "gridColor": {"condition": {"test": "indexof([14,36,57,77,99], datum.value) >= 0", "value": "#c4c4c4"}, "value": "#e4e4e4"}, "title": null}},
           "x2": {"datum": 114.6},
           "y": {"datum": 1.0, "type": "quantitative", "scale": {"domain": [0.619, 1.202], "nice": false, "zero": false}, "axis": {"orient": "right", "values": [0.7, 0.8, 0.9, 1.0, 1.1], "format": ".2f", "grid": true, "labelPadding": 3, "title": null}}}},
        {"mark": {"type": "point", "shape": "M -0.5 0 A 0.5 1 0 1 0 0.5 0 A 0.5 1 0 1 0 -0.5 0 Z", "filled": true, "color": "#22dd22", "opacity": 1, "size": 400}, "data": {"values": [{}]}, "encoding": {"x": {"datum": 113.2}, "y": {"datum": 0.951}}},
        {"mark": {"type": "rule", "color": "#e06060", "strokeWidth": 1.2}, "data": {"values": [{}]}, "encoding": {"x": {"datum": 112.1}, "x2": {"datum": 114.6}, "y": {"datum": 1.0}}},
        {"data": {"name": "cpc"}, "mark": {"type": "line", "color": "#222", "strokeWidth": 0.8}, "encoding": {"x": {"field": "i", "type": "quantitative"}, "y": {"field": "p", "type": "quantitative"}}},
        {"mark": {"type": "rule", "color": "#1a1aee", "strokeWidth": 1.6}, "data": {"values": [{}]}, "encoding": {"x": {"datum": 59.2}, "x2": {"datum": 114.6}, "y": {"datum": 0.657}, "y2": {"datum": 0.867}}},
        {"data": {"name": "xl"}, "transform": [{"filter": "indexof(['Mar','Apr','May','Jun','Jul'], datum.t) < 0"}], "mark": {"type": "text", "align": "center", "baseline": "middle", "fontSize": 6.5, "color": "#555"}, "encoding": {"x": {"field": "i", "type": "quantitative"}, "y": {"datum": 0.566}, "text": {"field": "t"}}},
        {"data": {"name": "xl"}, "transform": [{"filter": "indexof(['Mar','Apr','May','Jun','Jul'], datum.t) >= 0"}], "mark": {"type": "text", "align": "center", "baseline": "middle", "fontSize": 6.5, "fontWeight": "bold", "color": "#111"}, "encoding": {"x": {"field": "i", "type": "quantitative"}, "y": {"datum": 0.566}, "text": {"field": "t"}}},
        {"mark": {"type": "text", "align": "left", "baseline": "middle", "fontSize": 6.5, "color": "#333"}, "data": {"values": [{}]}, "encoding": {"x": {"datum": -1}, "y": {"datum": 1.176}, "text": {"value": "— $CPC (Daily) 0.99"}}},
        {"mark": {"type": "text", "align": "left", "baseline": "middle", "fontSize": 6.5, "color": "#333"}, "data": {"values": [{}]}, "encoding": {"x": {"datum": -1}, "y": {"datum": 1.105}, "text": {"value": "— HL(1.0)"}}}
      ]
    }
  ],
  "config": {
    "font": "Liberation Sans",
    "view": {"stroke": "#a0a0a0", "strokeWidth": 0.8},
    "axis": {"labelFontSize": 6.5, "labelColor": "#333", "labelFont": "Liberation Sans", "domain": false, "ticks": false, "gridColor": "#e4e4e4", "gridWidth": 0.8},
    "title": {"font": "Liberation Sans", "subtitleFont": "Liberation Sans"}
  }
}
